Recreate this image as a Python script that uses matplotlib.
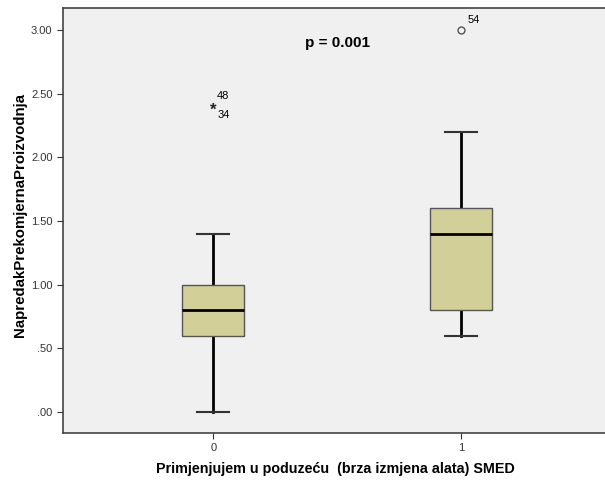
import numpy as np
import matplotlib
matplotlib.use("Agg")
import matplotlib.pyplot as plt
from matplotlib.ticker import FuncFormatter

plt.rcParams["font.family"] = ["Liberation Sans", "DejaVu Sans"]

# box statistics
groups = ["0", "1"]
whislo = [0.0, 0.6]
q1 = [0.6, 0.8]
med = [0.8, 1.4]
q3 = [1.0, 1.6]
whishi = [1.4, 2.2]
# outliers: (value, case labels, marker)
out_vals = [[2.4], [3.0]]
out_labels = [["48", "34"], ["54"]]
out_marks = ["*", "o"]

fig = plt.figure(figsize=(6.05, 4.83), dpi=100)
ax = fig.add_axes([0.104, 0.1035, 0.9, 0.879])
ax.set_facecolor("#f0f0f0")

stats = []
for i in range(len(groups)):
    stats.append(dict(med=med[i], q1=q1[i], q3=q3[i], whislo=whislo[i],
                      whishi=whishi[i], fliers=[], label=groups[i]))

bp = ax.bxp(stats, positions=[0, 1], widths=0.25, patch_artist=True,
            showfliers=False,
            boxprops=dict(facecolor="#d3cf99", edgecolor="#555555", linewidth=1),
            medianprops=dict(color="black", linewidth=2),
            whiskerprops=dict(color="black", linewidth=2),
            capprops=dict(color="#333333", linewidth=1.5),
            capwidths=0.13)
for b in bp["boxes"]:
    b.set_zorder(3)
for m in bp["medians"]:
    m.set_zorder(4)

# outliers with case numbers
for i in range(len(groups)):
    for v in out_vals[i]:
        if out_marks[i] == "*":
            ax.text(i, v - 0.03, "*", fontsize=12, fontweight="bold", ha="center",
                    va="center", color="#222222")
            ax.text(i + 0.015, v + 0.08, out_labels[i][0], fontsize=8, va="center")
            ax.text(i + 0.015, v - 0.07, out_labels[i][1], fontsize=8, va="center")
        else:
            ax.plot(i, v, marker="o", mfc="none", mec="#555555", markersize=5,
                    linestyle="none")
            ax.text(i + 0.025, v + 0.08, out_labels[i][0], fontsize=8, va="center")

ax.text(0.5, 2.9, "p = 0.001", fontsize=11, fontweight="bold", ha="center", va="center")

ax.set_xlim(-0.607, 1.59)
ax.set_ylim(-0.165, 3.17)
ax.set_yticks([0, 0.5, 1.0, 1.5, 2.0, 2.5, 3.0])
ax.yaxis.set_major_formatter(FuncFormatter(lambda v, p: ("%.2f" % v).lstrip("0") if v < 1 else "%.2f" % v))
ax.set_xticks([0, 1])
ax.set_xticklabels(groups)
ax.tick_params(labelsize=8, colors="#333333", length=4)

for s in ["left", "bottom", "top"]:
    ax.spines[s].set_color("#444444")
    ax.spines[s].set_linewidth(1.2)
ax.spines["right"].set_visible(False)

ax.set_ylabel("NapredakPrekomjernaProizvodnja", fontsize=10.8, fontweight="bold")
ax.yaxis.set_label_coords(-0.066, 0.513)
ax.set_xlabel("Primjenjujem u poduzeću  (brza izmjena alata) SMED", fontsize=10.3,
              fontweight="bold", labelpad=6)

fig.savefig("out.png", dpi=100)
